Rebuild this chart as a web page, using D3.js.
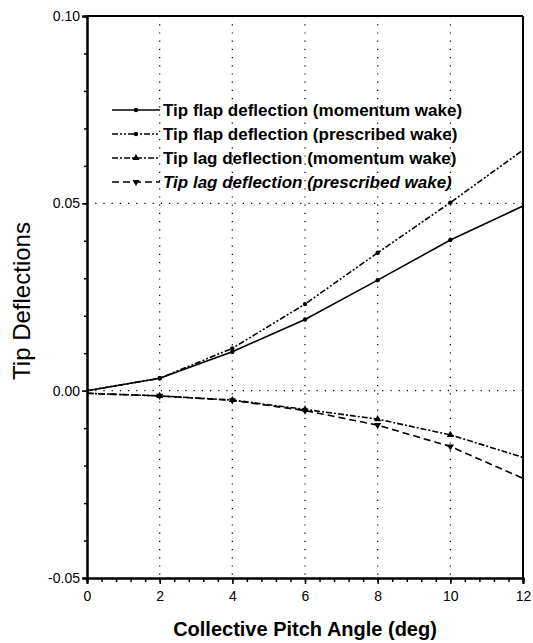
<!DOCTYPE html>
<html><head><meta charset="utf-8">
<script src="https://cdn.jsdelivr.net/npm/d3@7"></script>
<style>body{margin:0;background:#fff}</style>
</head><body>
<svg id="c" width="533" height="643"></svg>
<script>
const pitch = [0, 2, 4, 6, 8, 10, 12];
const flapMomentum   = [0.000, 0.0033, 0.0104, 0.0190, 0.0295, 0.0402, 0.0493];
const flapPrescribed = [0.000, 0.0033, 0.0113, 0.0231, 0.0368, 0.0502, 0.0642];
const lagMomentum    = [-0.0007, -0.0014, -0.0025, -0.0050, -0.0076, -0.0118, -0.0178];
const lagPrescribed  = [-0.0007, -0.0014, -0.0026, -0.0053, -0.0092, -0.0149, -0.0234];
const xTicks = [0, 2, 4, 6, 8, 10, 12];
const yTicks = [-0.05, 0.00, 0.05, 0.10];
const yTickLabels = ["-0.05", "0.00", "0.05", "0.10"];
const seriesNames = [
  "Tip flap deflection (momentum wake)",
  "Tip flap deflection (prescribed wake)",
  "Tip lag deflection (momentum wake)",
  "Tip lag deflection (prescribed wake)"
];

const svg = d3.select("#c");
const x = d3.scaleLinear().domain([0, 12]).range([87, 523]);
const y = d3.scaleLinear().domain([-0.05, 0.10]).range([578, 16]);

const styles = [
  {dash: null, marker: "circle", italic: false},
  {dash: "6,2,2,2,2,2", marker: "circle", italic: false},
  {dash: "6,2,2,2", marker: "triangle", italic: false},
  {dash: "7,4", marker: "tridown", italic: true}
];
const series = [flapMomentum, flapPrescribed, lagMomentum, lagPrescribed];
const FONT = "Liberation Sans, Arial, sans-serif";

// gridlines (dotted)
const grid = svg.append("g").attr("stroke", "#000").attr("stroke-width", 1.2)
  .attr("stroke-dasharray", "1.2,7");
[2, 4, 6, 8, 10].forEach(v => grid.append("line")
  .attr("x1", x(v)).attr("x2", x(v)).attr("y1", y(0.10)).attr("y2", y(-0.05)));
[0.05, 0.00].forEach(v => grid.append("line")
  .attr("x1", x(0)).attr("x2", x(12)).attr("y1", y(v)).attr("y2", y(v)));

// axes
const xAxis = d3.axisBottom(x).tickValues(xTicks).tickFormat(d => String(d)).tickSize(6).tickPadding(7);
const xMinor = d3.axisBottom(x).tickValues(d3.range(0, 12.001, 0.4)).tickFormat("").tickSize(4);
const yAxis = d3.axisLeft(y).tickValues(yTicks).tickFormat((d, i) => yTickLabels[i]).tickSize(5).tickPadding(2);
const yMinor = d3.axisLeft(y).tickValues(d3.range(-0.05, 0.1001, 0.01)).tickFormat("").tickSize(3);

function styleAxis(g) {
  g.select(".domain").attr("stroke", "#000").attr("stroke-width", 2);
  g.selectAll(".tick line").attr("stroke", "#000").attr("stroke-width", 1.5);
  g.selectAll("text").attr("fill", "#000").attr("font-family", FONT).attr("font-size", 14);
}
svg.append("g").attr("transform", `translate(0,${y(-0.05)})`).call(xMinor).call(styleAxis);
svg.append("g").attr("transform", `translate(0,${y(-0.05)})`).call(xAxis).call(styleAxis);
svg.append("g").attr("transform", `translate(${x(0)},0)`).call(yMinor).call(styleAxis);
svg.append("g").attr("transform", `translate(${x(0)},0)`).call(yAxis).call(styleAxis);

// frame top & right
svg.append("line").attr("x1", x(0)).attr("x2", x(12)).attr("y1", y(0.10)).attr("y2", y(0.10))
  .attr("stroke", "#000").attr("stroke-width", 2);
svg.append("line").attr("x1", x(12)).attr("x2", x(12)).attr("y1", y(0.10)).attr("y2", y(-0.05))
  .attr("stroke", "#000").attr("stroke-width", 2);

// marker drawer
function drawMarker(g, kind, cx, cy) {
  if (kind === "circle") {
    g.append("circle").attr("cx", cx).attr("cy", cy).attr("r", 2.2).attr("fill", "#000");
  } else if (kind === "triangle") {
    g.append("path").attr("d", d3.symbol().type(d3.symbolTriangle).size(22)())
      .attr("transform", `translate(${cx},${cy})`).attr("fill", "#000");
  } else {
    g.append("path").attr("d", d3.symbol().type(d3.symbolTriangle).size(22)())
      .attr("transform", `translate(${cx},${cy}) rotate(180)`).attr("fill", "#000");
  }
}

// lines
const line = d3.line().x((d, i) => x(pitch[i])).y(d => y(d));
series.forEach((s, k) => {
  const g = svg.append("g");
  g.append("path").datum(s).attr("d", line).attr("fill", "none").attr("stroke", "#000")
    .attr("stroke-width", 1.6).attr("stroke-dasharray", styles[k].dash);
  s.forEach((v, i) => { if (i > 0 && i < s.length - 1) drawMarker(g, styles[k].marker, x(pitch[i]), y(v)); });
});

// legend
const legY = [110, 134, 158, 182];
seriesNames.forEach((name, k) => {
  const g = svg.append("g");
  g.append("line").attr("x1", 112).attr("x2", 160).attr("y1", legY[k]).attr("y2", legY[k])
    .attr("stroke", "#000").attr("stroke-width", 1.4).attr("stroke-dasharray", styles[k].dash);
  drawMarker(g, styles[k].marker, 136, legY[k]);
  g.append("text").attr("x", 163).attr("y", legY[k] + 6).text(name)
    .attr("font-family", FONT).attr("font-size", 17)
    .attr("font-weight", "bold").attr("font-style", styles[k].italic ? "italic" : "normal")
    .attr("fill", "#000");
});

// axis titles
svg.append("text").attr("x", 305).attr("y", 636).attr("text-anchor", "middle")
  .attr("font-family", FONT).attr("font-size", 20).attr("font-weight", "bold")
  .text("Collective Pitch Angle (deg)");
svg.append("text").attr("transform", "translate(30,301) rotate(-90)").attr("text-anchor", "middle")
  .attr("font-family", FONT).attr("font-size", 24)
  .text("Tip Deflections");
</script>
</body></html>
